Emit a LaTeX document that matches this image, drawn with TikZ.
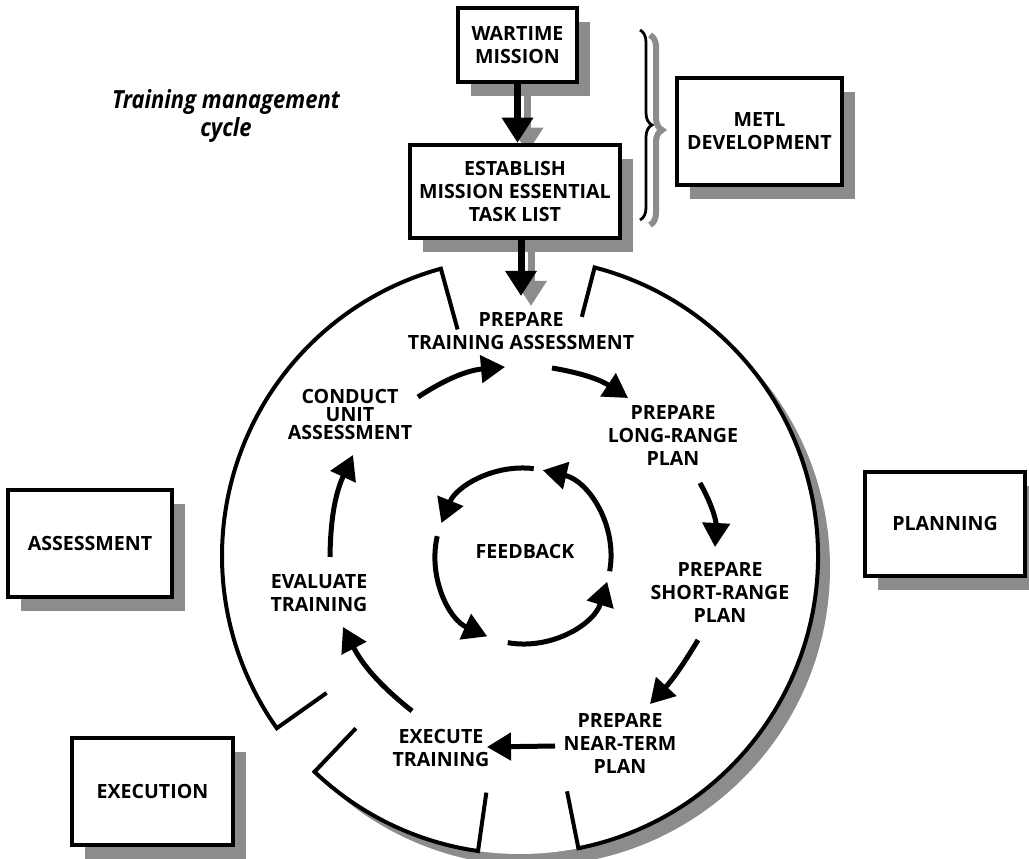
\documentclass[tikz,border=0pt]{standalone}
\usepackage{fontspec}
\setmainfont{Open Sans}
\usetikzlibrary{arrows.meta,shadows,decorations.pathreplacing,calc}
\pgfdeclarelayer{bottom}
\pgfdeclarelayer{bg}
\pgfsetlayers{bottom,bg,main}
\colorlet{shadowgray}{black!45}
\newcommand\lbl{\fontsize{19.6}{23}\selectfont\bfseries}
\tikzset{
  box/.style={draw, line width=4.5pt, fill=white, align=center, font=\lbl, inner sep=0pt,
    drop shadow={shadow xshift=13pt, shadow yshift=-14pt, fill=shadowgray, opacity=1}},
  lab/.style={align=center, font=\lbl, inner sep=0pt},
  flow/.style={line width=5pt, -{Triangle[length=24pt,width=27pt]}},
  bigarrow/.style={line width=7pt, -{Triangle[length=25pt,width=30pt]}},
  ring/.style={line width=4pt},
  fback/.style={line width=5pt, -{Triangle[length=24pt,width=27pt]}},
}
\begin{document}
\begin{tikzpicture}[x=1pt,y=1pt]
\useasboundingbox (0,0) rectangle (1029,859);
\coordinate (C) at (520,303);
\coordinate (F) at (523,303);

% outer ring shadow and body
\begin{pgfonlayer}{bottom}
\fill[shadowgray] ($(C)+(12,-12)$) circle (298pt);
\fill[white] (C) circle (298pt);
\end{pgfonlayer}
\begin{scope}[shift={(C)}]
  \draw[ring] (105.4:235) -- (105.4:298) arc[start angle=105.4,end angle=215.3,radius=298pt] -- (215.3:237);
  \draw[ring] (226.4:238) -- (226.4:298) arc[start angle=226.4,end angle=261.9,radius=298pt] -- (261.9:239);
  \draw[ring] (281.3:240) -- (281.3:298) arc[start angle=281.3,end angle=435.5,radius=298pt] -- (75.5:247);
\end{scope}

% title
\node[align=center, font=\fontsize{25}{28}\selectfont\bfseries\itshape, inner sep=0pt] (title) at (226,743) {\scalebox{0.88}[1]{Training management}\\\scalebox{0.88}[1]{cycle}};

% top boxes
\node[box, minimum width=119pt, minimum height=74pt] (wart) at (517.5,814) {WARTIME\\MISSION};
\node[box, minimum width=210pt, minimum height=93pt] (estab) at (515,667.5) {ESTABLISH\\MISSION ESSENTIAL\\TASK LIST};
\node[box, minimum width=165pt, minimum height=107pt] (metl) at (759.5,727.5) {METL\\DEVELOPMENT};
\node[box, minimum width=164pt, minimum height=107pt] (assessbox) at (90,315.5) {ASSESSMENT};
\node[box, minimum width=161pt, minimum height=107pt] (execbox) at (152.5,67.5) {EXECUTION};
\node[box, minimum width=160pt, minimum height=104pt] (planbox) at (945,335) {PLANNING};

% brace
\coordinate (bt) at (640,829);
\coordinate (bb) at (640,639);
\begin{pgfonlayer}{bg}
\draw[shadowgray, line width=6pt, decorate, decoration={brace, amplitude=12pt}, transform canvas={xshift=10pt,yshift=-5pt}] (bt) -- (bb);
\end{pgfonlayer}
\draw[line width=2.8pt, decorate, decoration={brace, amplitude=12pt}] (bt) -- (bb);

% vertical arrows with shadows
\coordinate (tpa) at (521,563);
\begin{pgfonlayer}{bg}
\draw[bigarrow, shadowgray, transform canvas={xshift=10pt,yshift=-10pt}] (wart.south) -- (wart.south |- estab.north);
\draw[bigarrow, shadowgray, transform canvas={xshift=10pt,yshift=-10pt}] (tpa |- estab.south) -- (tpa);
\end{pgfonlayer}
\draw[bigarrow] (wart.south) -- (wart.south |- estab.north);
\draw[bigarrow] (tpa |- estab.south) -- (tpa);

% cycle labels
\node[lab] (ta) at (521,527.5) {PREPARE\\TRAINING ASSESSMENT};
\node[lab] (lr) at (673,424) {PREPARE\\LONG-RANGE\\PLAN};
\node[lab] (sr) at (720,267) {PREPARE\\SHORT-RANGE\\PLAN};
\node[lab] (nt) at (620,116) {PREPARE\\NEAR-TERM\\PLAN};
\node[lab] (et) at (441,111) {EXECUTE\\TRAINING};
\node[lab] (ev) at (319,266) {EVALUATE\\TRAINING};
\node[lab, font=\fontsize{19.6}{18}\selectfont\bfseries] (cu) at (350,445) {CONDUCT\\UNIT\\ASSESSMENT};
\node[lab] (fb) at (525,307) {FEEDBACK};

% cycle arrows
\coordinate (a1s) at (418,462); \coordinate (a1e) at (505,492);
\coordinate (a2s) at (552,491); \coordinate (a2e) at (628,461);
\coordinate (a3s) at (700,376); \coordinate (a3e) at (715,312);
\coordinate (a4s) at (698,219); \coordinate (a4e) at (650,155);
\coordinate (a5s) at (555,113); \coordinate (a5e) at (487,112);
\coordinate (a6s) at (412,148); \coordinate (a6e) at (343,232);
\coordinate (a7s) at (330,302); \coordinate (a7e) at (353,404);
\draw[flow] (a1s) to[bend left=14] (a1e);
\draw[flow] (a2s) to[bend left=12] (a2e);
\draw[flow] (a3s) to[bend left=16] (a3e);
\draw[flow] (a4s) to[bend left=6] (a4e);
\draw[flow] (a5s) -- (a5e);
\draw[flow] (a6s) to[bend left=12] (a6e);
\draw[flow] (a7s) to[bend left=12] (a7e);

% feedback arrows
\begin{scope}[shift={(F)}]
  \draw[fback] (83:88) arc[start angle=83,end angle=158,radius=88pt];
  \draw[fback] (167:88) arc[start angle=167,end angle=246,radius=88pt];
  \draw[fback] (260:88) arc[start angle=260,end angle=343,radius=88pt];
  \draw[fback] (350:88) arc[start angle=350,end angle=437,radius=88pt];
\end{scope}
\end{tikzpicture}
\end{document}
